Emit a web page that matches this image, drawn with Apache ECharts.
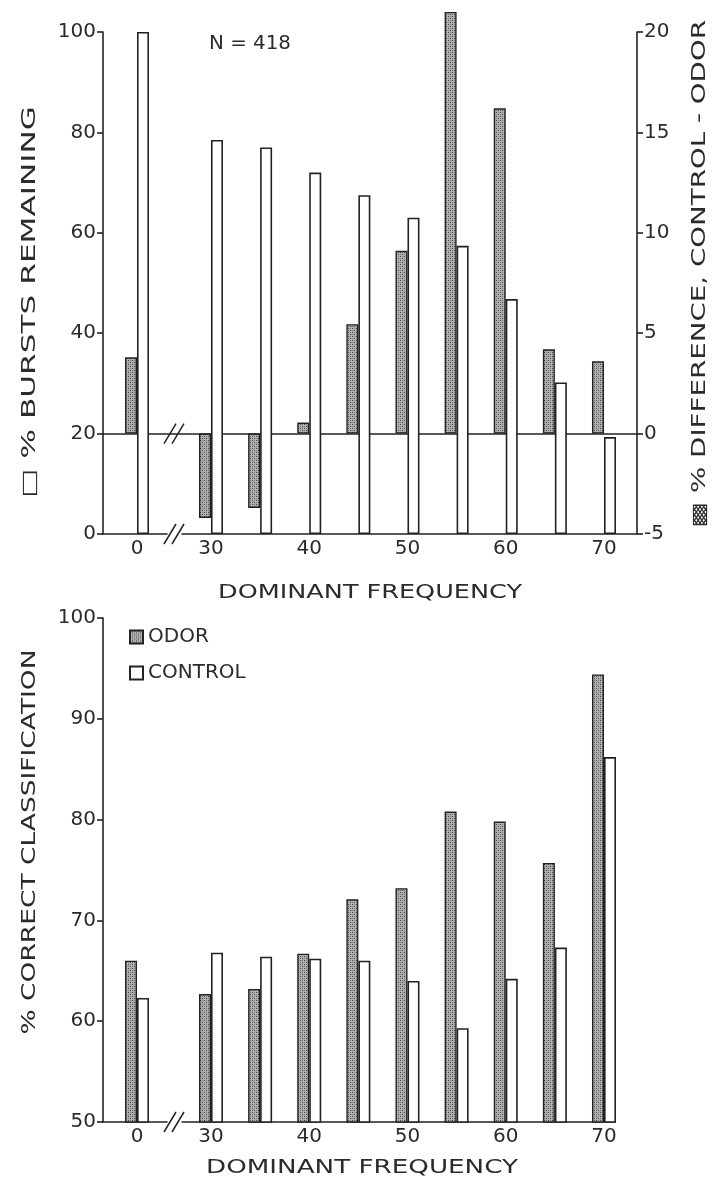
<!DOCTYPE html>
<html><head><meta charset="utf-8">
<script src="https://cdn.jsdelivr.net/npm/echarts@6/dist/echarts.min.js"></script>
<style>html,body{margin:0;padding:0;background:#fff}#c{width:714px;height:1188px}</style>
</head><body><div id="c"></div>
<script>
// ---- data ----
const frequencies = [0, 30, 35, 40, 45, 50, 55, 60, 65, 70];
const xTickLabels = [0, 30, 40, 50, 60, 70];
const burstsRemaining = [100, 78.5, 77, 72, 67.5, 63, 57.4, 46.8, 30.2, 19.3];
const diffControlOdor = [3.8, -4.2, -3.7, 0.55, 5.45, 9.1, 21, 16.2, 4.2, 3.6];
const odorCorrect = [66.0, 62.7, 63.2, 66.7, 72.1, 73.2, 80.8, 79.8, 75.7, 94.4];
const controlCorrect = [62.3, 66.8, 66.4, 66.2, 66.0, 64.0, 59.3, 64.2, 67.3, 86.2];
const seriesNames = ['ODOR', 'CONTROL'];

// ---- styling helpers ----
const FONT = 'DejaVu Sans';
const INK = '#2b2b2b';
const LINE = '#222';

function stipple() {
  const c = document.createElement('canvas');
  c.width = 4; c.height = 4;
  const g = c.getContext('2d');
  g.fillStyle = '#b0b0b0'; g.fillRect(0, 0, 4, 4);
  g.fillStyle = '#444'; g.fillRect(0, 0, 1, 1); g.fillRect(2, 2, 1, 1);
  g.fillStyle = '#7c7c7c'; g.fillRect(2, 0, 1, 1); g.fillRect(0, 2, 1, 1);
  return c;
}
const shadedStyle = { color: { image: stipple(), repeat: 'repeat' }, borderColor: LINE, borderWidth: 1.4 };
const whiteStyle = { color: '#fff', borderColor: LINE, borderWidth: 1.6 };

const measureCtx = document.createElement('canvas').getContext('2d');
function stretchedText(text, x, y, target, rotation, size) {
  const font = size + 'px "' + FONT + '"';
  measureCtx.font = font;
  const w = measureCtx.measureText(text).width;
  return {
    type: 'text', x: x, y: y, rotation: rotation || 0, scaleX: target / w, silent: true,
    style: { text: text, font: font, fill: INK, align: 'center', verticalAlign: 'middle' }
  };
}

const BREAK = { start: 3, end: 27, gap: 1.53 };
function xAxisCfg(gridIndex, max) {
  return {
    type: 'value', gridIndex: gridIndex, min: -3.46, max: max,
    breaks: [{ start: BREAK.start, end: BREAK.end, gap: BREAK.gap }],
    breakArea: { show: false },
    axisLine: { show: true, onZero: false, lineStyle: { color: LINE, width: 1.6 } },
    axisTick: { show: false },
    splitLine: { show: false },
    axisLabel: { customValues: xTickLabels, color: INK, fontSize: 20, fontFamily: FONT, margin: 5 }
  };
}
function yAxisCfg(gridIndex, min, max, interval, position) {
  return {
    type: 'value', gridIndex: gridIndex, min: min, max: max, interval: interval, position: position,
    axisLine: { show: true, onZero: false, lineStyle: { color: LINE, width: 1.6 } },
    axisTick: { show: true, inside: false, length: 6, lineStyle: { color: LINE, width: 1.6 } },
    splitLine: { show: false },
    axisLabel: { color: INK, fontSize: 20, fontFamily: FONT, margin: 7 }
  };
}
const pairs = (ys) => frequencies.map((f, i) => [f, ys[i]]);

const chart = echarts.init(document.getElementById('c'), null, { renderer: 'canvas' });
const option = {
  animation: false,
  backgroundColor: '#fff',
  grid: [
    { left: 103, top: 32, width: 534, height: 502 },
    { left: 103, top: 618, width: 512, height: 504 }
  ],
  xAxis: [xAxisCfg(0, 73.36), xAxisCfg(1, 71.12)],
  yAxis: [
    yAxisCfg(0, 0, 100, 20, 'left'),
    yAxisCfg(0, -5, 20, 5, 'right'),
    yAxisCfg(1, 50, 100, 10, 'left')
  ],
  legend: {
    data: seriesNames, orient: 'vertical', left: 124, top: 622,
    itemWidth: 13, itemHeight: 13, itemGap: 16, icon: 'rect',
    textStyle: { color: INK, fontSize: 20, fontFamily: FONT },
    selectedMode: false
  },
  series: [
    {
      name: 'diff', type: 'bar', xAxisIndex: 0, yAxisIndex: 1, data: pairs(diffControlOdor),
      barWidth: 12, barGap: '0%', itemStyle: shadedStyle, clip: false, z: 3,
      markLine: {
        silent: true, symbol: 'none', label: { show: false }, z: 4,
        lineStyle: { color: LINE, width: 1.6, type: 'solid' },
        data: [{ yAxis: 0 }]
      }
    },
    {
      name: 'bursts', type: 'bar', xAxisIndex: 0, yAxisIndex: 0, data: pairs(burstsRemaining),
      barWidth: 12, barGap: '0%', itemStyle: whiteStyle, z: 10
    },
    {
      name: seriesNames[0], type: 'bar', xAxisIndex: 1, yAxisIndex: 2, data: pairs(odorCorrect),
      barWidth: 12, barGap: '0%', itemStyle: shadedStyle
    },
    {
      name: seriesNames[1], type: 'bar', xAxisIndex: 1, yAxisIndex: 2, data: pairs(controlCorrect),
      barWidth: 12, barGap: '0%', itemStyle: whiteStyle
    }
  ]
};
chart.setOption(option);

// break marks and titles
function slashes(cx, y) {
  const out = [];
  [-4, 4].forEach(function (dx) {
    out.push({ type: 'line', silent: true, z: 50,
      shape: { x1: cx + dx - 6, y1: y + 10, x2: cx + dx + 6, y2: y - 10 },
      style: { stroke: LINE, lineWidth: 1.5 } });
  });
  return out;
}
const b0 = chart.convertToPixel({ xAxisIndex: 0 }, BREAK.start);
const b1 = chart.convertToPixel({ xAxisIndex: 0 }, BREAK.end);
const bx = (b0 + b1) / 2;
const c0 = chart.convertToPixel({ xAxisIndex: 1 }, BREAK.start);
const c1 = chart.convertToPixel({ xAxisIndex: 1 }, BREAK.end);
const cx = (c0 + c1) / 2;
const yBase = chart.convertToPixel({ yAxisIndex: 0 }, 0);
const yZero = chart.convertToPixel({ yAxisIndex: 1 }, 0);
const yBase2 = chart.convertToPixel({ yAxisIndex: 2 }, 50);

const graphics = []
  .concat(slashes(bx, yBase), slashes(bx, yZero), slashes(cx, yBase2))
  .concat([
    stretchedText('N = 418', 250, 44, 82, 0, 20),
    stretchedText('DOMINANT FREQUENCY', 370, 593, 304, 0, 19),
    stretchedText('DOMINANT FREQUENCY', 362, 1168, 312, 0, 19),
    stretchedText('□ % BURSTS REMAINING', 30, 302, 392, Math.PI / 2, 19),
    stretchedText('% CORRECT CLASSIFICATION', 30, 842, 385, Math.PI / 2, 19),
    stretchedText('▩ % DIFFERENCE, CONTROL - ODOR', 700, 274, 508, Math.PI / 2, 19)
  ]);
chart.setOption({ graphic: graphics });
</script>
</body></html>
